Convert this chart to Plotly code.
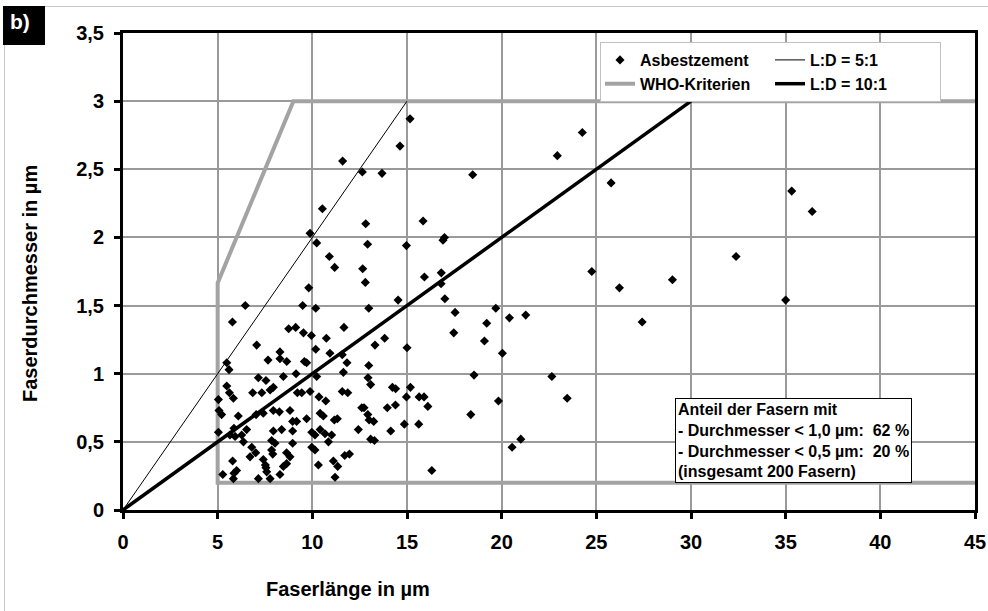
import plotly.graph_objects as go

# ---------------- data ----------------
fiber_length = [
    15.16, 14.63, 11.6, 12.64, 13.68, 18.47, 22.94, 24.26, 25.78, 12.82,
    15.85, 12.92, 14.97, 16.9, 16.98, 10.9, 11.18, 12.66, 12.8, 15.92,
    16.81, 16.8, 14.53, 17.0, 24.76, 26.22, 10.53, 9.88, 10.23, 35.32,
    36.4, 32.38, 29.02, 35.0, 27.42, 12.98, 17.54, 19.69, 20.41, 21.27,
    11.67, 19.21, 17.47, 13.82, 19.09, 13.31, 15.0, 20.04, 10.93, 11.58,
    11.83, 12.98, 11.64, 18.54, 22.65, 12.94, 13.08, 14.23, 14.4, 15.18,
    11.58, 11.87, 14.97, 15.64, 15.9, 16.1, 23.46, 19.83, 12.61, 12.73,
    13.96, 14.39, 11.32, 12.93, 13.0, 13.24, 18.37, 12.43, 14.14, 14.86,
    15.62, 11.02, 13.08, 13.28, 21.01, 20.55, 11.71, 11.96, 11.11, 11.34,
    11.2, 16.31, 6.46, 5.78, 9.49, 10.18, 9.81, 8.75, 9.12, 9.53,
    9.95, 10.74, 10.18, 7.06, 8.29, 7.66, 8.29, 8.65, 9.58, 9.7,
    5.48, 5.6, 7.15, 7.55, 8.47, 9.14, 10.23, 5.48, 5.62, 5.83,
    5.04, 6.85, 7.33, 7.77, 7.94, 9.21, 9.44, 9.88, 10.35, 10.71,
    5.07, 5.21, 6.09, 7.03, 7.41, 7.94, 8.26, 8.82, 8.96, 9.17,
    9.7, 10.41, 10.58, 11.16, 5.04, 5.86, 5.65, 5.92, 6.27, 6.36,
    6.53, 7.94, 8.38, 7.85, 8.03, 8.96, 8.96, 9.97, 10.14, 10.41,
    10.67, 10.85, 6.8, 7.01, 7.85, 7.91, 8.64, 8.82, 9.97, 10.14,
    5.79, 6.0, 5.86, 5.27, 5.83, 6.71, 7.41, 7.52, 7.55, 7.59,
    7.15, 7.77, 8.29, 8.47, 8.64, 10.32,
]
fiber_diameter = [
    2.87, 2.67, 2.56, 2.48, 2.47, 2.46, 2.60, 2.77, 2.40, 2.10,
    2.12, 1.95, 1.94, 1.98, 2.00, 1.86, 1.78, 1.77, 1.67, 1.71,
    1.74, 1.66, 1.54, 1.55, 1.75, 1.63, 2.21, 2.03, 1.96, 2.34,
    2.19, 1.86, 1.69, 1.54, 1.38, 1.48, 1.45, 1.48, 1.41, 1.43,
    1.34, 1.37, 1.30, 1.26, 1.24, 1.21, 1.19, 1.15, 1.15, 1.14,
    1.08, 1.06, 1.01, 0.99, 0.98, 0.97, 0.92, 0.90, 0.89, 0.90,
    0.87, 0.86, 0.83, 0.83, 0.83, 0.76, 0.82, 0.80, 0.75, 0.75,
    0.75, 0.77, 0.67, 0.70, 0.66, 0.65, 0.70, 0.59, 0.58, 0.63,
    0.63, 0.55, 0.52, 0.51, 0.52, 0.46, 0.40, 0.41, 0.36, 0.32,
    0.24, 0.29, 1.50, 1.38, 1.50, 1.48, 1.63, 1.33, 1.34, 1.30,
    1.28, 1.26, 1.18, 1.21, 1.16, 1.10, 1.11, 1.09, 1.09, 1.08,
    1.08, 1.03, 0.97, 0.95, 0.98, 1.00, 0.98, 0.91, 0.86, 0.82,
    0.81, 0.86, 0.86, 0.88, 0.90, 0.86, 0.86, 0.87, 0.83, 0.80,
    0.73, 0.70, 0.69, 0.70, 0.71, 0.73, 0.72, 0.73, 0.65, 0.65,
    0.67, 0.71, 0.69, 0.66, 0.57, 0.60, 0.55, 0.54, 0.55, 0.50,
    0.59, 0.58, 0.59, 0.51, 0.49, 0.58, 0.49, 0.57, 0.55, 0.59,
    0.56, 0.50, 0.46, 0.42, 0.44, 0.41, 0.42, 0.39, 0.46, 0.44,
    0.36, 0.29, 0.27, 0.26, 0.23, 0.39, 0.37, 0.33, 0.31, 0.28,
    0.23, 0.23, 0.26, 0.32, 0.34, 0.33,
]

who_x = [45, 5, 5, 9, 45]
who_y = [0.2, 0.2, 5 / 3, 3, 3]
ld5_x = [0, 15]
ld5_y = [0, 3]
ld10_x = [0, 30]
ld10_y = [0, 3]

x_tick_vals = [0, 5, 10, 15, 20, 25, 30, 35, 40, 45]
y_tick_vals = [0, 0.5, 1, 1.5, 2, 2.5, 3, 3.5]
y_tick_text = ["0", "0,5", "1", "1,5", "2", "2,5", "3", "3,5"]

series_names = ["Asbestzement", "WHO-Kriterien", "L:D = 5:1", "L:D = 10:1"]
x_title = "Faserlänge in µm"
y_title = "Faserdurchmesser in µm"
panel_label = "b)"
info_lines = [
    "Anteil der Fasern mit",
    "- Durchmesser &lt; 1,0 µm:\u00a0 62 %",
    "- Durchmesser &lt; 0,5 µm:\u00a0 20 %",
    "(insgesamt 200 Fasern)",
]

# ---------------- layout helpers ----------------
W, H = 988, 611
PL, PR, PT, PB = 123, 975, 33, 510


def px(x):
    return (x - PL) / (PR - PL)


def py(y):
    return (PB - y) / (PB - PT)


FONT = "Liberation Sans, Arial, sans-serif"
GRID = "#9a9a9a"

fig = go.Figure()

fig.add_trace(go.Scatter(
    x=who_x, y=who_y, mode="lines", name=series_names[1],
    line=dict(color="#a3a3a3", width=4), legendgroup="a", legendrank=2,
    hoverinfo="skip",
))
fig.add_trace(go.Scatter(
    x=ld5_x, y=ld5_y, mode="lines", name=series_names[2],
    line=dict(color="black", width=1), legendgroup="b", legendrank=3,
    hoverinfo="skip",
))
fig.add_trace(go.Scatter(
    x=ld10_x, y=ld10_y, mode="lines", name=series_names[3],
    line=dict(color="black", width=3.5), legendgroup="b", legendrank=4,
    hoverinfo="skip",
))
fig.add_trace(go.Scatter(
    x=fiber_length, y=fiber_diameter, mode="markers", name=series_names[0],
    marker=dict(symbol="diamond", size=7, color="black", line=dict(width=0)),
    legendgroup="a", legendrank=1,
))

axis_common = dict(
    showline=True, linecolor="black", linewidth=3, mirror=True,
    ticks="outside", ticklen=6, tickwidth=3, tickcolor="black",
    showgrid=True, gridcolor=GRID, gridwidth=1.5, zeroline=False,
    tickfont=dict(size=20, color="black", family=FONT, weight="bold"),
    ticklabelstandoff=6, automargin=False,
)

fig.update_xaxes(range=[0, 45], tickvals=x_tick_vals,
                 ticklabeloverflow="allow", **axis_common)
fig.update_yaxes(range=[0, 3.5], tickvals=y_tick_vals, ticktext=y_tick_text,
                 **axis_common)

annotations = [
    dict(text=x_title, xref="paper", yref="paper", x=px(348), y=py(589),
         showarrow=False, xanchor="center", yanchor="middle",
         font=dict(size=20, color="black", family=FONT, weight="bold")),
    dict(text=y_title, xref="paper", yref="paper", x=px(30), y=py(284),
         showarrow=False, xanchor="center", yanchor="middle", textangle=-90,
         font=dict(size=20, color="black", family=FONT, weight="bold")),
    dict(text="<br>".join(info_lines), xref="x", yref="y", x=29.16, y=0.2,
         xanchor="left", yanchor="bottom", align="left", showarrow=False,
         bgcolor="white", bordercolor="black", borderwidth=1, borderpad=2,
         font=dict(size=16, color="black", family=FONT, weight="bold")),
    dict(text=panel_label, xref="paper", yref="paper", x=px(20), y=py(22),
         showarrow=False, xanchor="center", yanchor="middle",
         font=dict(size=21, color="white", family=FONT, weight="bold")),
]

shapes = [
    dict(type="rect", xref="paper", yref="paper", x0=px(3), x1=px(45),
         y0=py(6), y1=py(45), fillcolor="black", line=dict(width=0),
         layer="above"),
    dict(type="line", xref="paper", yref="paper", x0=px(45), x1=px(988),
         y0=py(6.5), y1=py(6.5), line=dict(color="#c8c8c8", width=1)),
    dict(type="line", xref="paper", yref="paper", x0=px(4.5), x1=px(4.5),
         y0=py(45), y1=py(611), line=dict(color="#c8c8c8", width=1)),
]

fig.update_layout(
    width=W, height=H, autosize=False,
    margin=dict(l=PL, r=W - PR, t=PT, b=H - PB, pad=0, autoexpand=False),
    paper_bgcolor="white", plot_bgcolor="white",
    font=dict(family=FONT, color="black", weight="bold"),
    showlegend=True,
    legend=dict(
        orientation="h", traceorder="grouped", x=px(600), y=py(42),
        xanchor="left", yanchor="top", bgcolor="white",
        bordercolor="#c0c0c0", borderwidth=1, entrywidth=125,
        font=dict(size=16, color="black", family=FONT, weight="bold"),
    ),
    annotations=annotations,
    shapes=shapes,
)

fig.write_html(
    "out.html",
    config={"displayModeBar": False, "responsive": False},
    post_script="document.body.style.margin='0';document.body.style.overflow='hidden';",
)
